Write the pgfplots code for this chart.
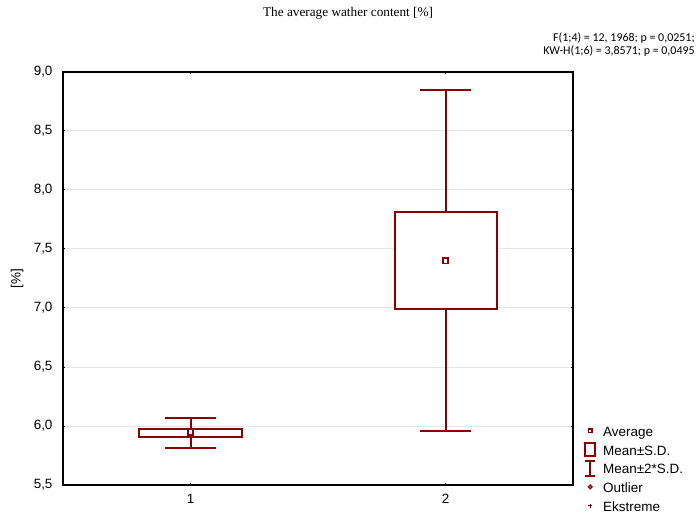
\documentclass[border=0pt]{standalone}
\usepackage{fontspec}
\setmainfont{Liberation Sans}
\newfontfamily\titlefont{Liberation Serif}
\newfontfamily\calib{Carlito}
\usepackage{pgfplots}
\pgfplotsset{compat=1.18}
\definecolor{darkred}{RGB}{139,0,0}
\definecolor{gridgray}{RGB}{230,230,230}
\newcommand{\lstrut}{\rule[-5.5bp]{0pt}{18.8bp}}
\begin{document}
\begin{tikzpicture}
\path[use as bounding box] (-63bp,-32bp) rectangle (634bp,485bp);
\begin{axis}[
  at={(0,0)}, anchor=south west,
  scale only axis, width=510bp, height=413bp,
  xmin=0.5, xmax=2.5, ymin=5.5, ymax=9.0,
  xtick={1,2}, xticklabels={1,2},
  ytick={5.5,6.0,6.5,7.0,7.5,8.0,8.5,9.0},
  ymajorgrids, grid style={gridgray, line width=1bp},
  axis line style={black, line width=1.3bp},
  tick align=inside, major tick length=2.5bp,
  tick style={black, line width=1bp},
  /pgf/number format/assume math mode=true,
  /pgf/number format/use comma, /pgf/number format/fixed,
  /pgf/number format/fixed zerofill, /pgf/number format/precision=1,
  ticklabel style={font=\fontsize{13.5}{15}\selectfont},
  yticklabel style={xshift=-7bp},
  xticklabel style={yshift=-6bp},
  ylabel={[\%]},
  ylabel style={at={(rel axis cs:-0.09,0.5)}, anchor=center, font=\fontsize{13.5}{15}\selectfont},
  legend style={at={(rel axis cs:1,0.16)}, anchor=north west, xshift=8bp, draw=none, fill=none,
    font=\fontsize{13.5}{15}\selectfont, row sep=0bp,
    cells={anchor=west, inner ysep=1bp, inner xsep=1.5bp},
    /tikz/every odd column/.append style={column sep=5bp}},
  legend cell align=left,
  unbounded coords=jump,
  clip=false,
]
% whiskers (mean +/- 2*S.D. as drawn)
\addplot[forget plot, darkred, line width=2bp] coordinates {
  (0.9,6.07) (1.1,6.07) (nan,nan) (1,6.07) (1,5.975) (nan,nan)
  (1,5.91) (1,5.81) (nan,nan) (0.9,5.81) (1.1,5.81) (nan,nan)
  (1.9,8.85) (2.1,8.85) (nan,nan) (2,8.85) (2,7.81) (nan,nan)
  (2,6.99) (2,5.96) (nan,nan) (1.9,5.96) (2.1,5.96)};
% boxes (mean +/- S.D.)
\addplot[forget plot, darkred, line width=2bp, fill=white] coordinates {
  (0.8,5.91) (1.2,5.91) (1.2,5.975) (0.8,5.975)} -- cycle;
\addplot[forget plot, darkred, line width=2bp, fill=white] coordinates {
  (1.8,6.99) (2.2,6.99) (2.2,7.81) (1.8,7.81)} -- cycle;
% averages
\addplot[forget plot, only marks, mark=square*, mark size=2.6bp, darkred, line width=1.5bp,
  mark options={fill=white}] coordinates {(1,5.947) (2,7.40)};
\addlegendimage{legend image code/.code={
  \path[draw=none,fill=none] (0,-6bp) rectangle (12bp,6bp);
  \draw[darkred,line width=1.4bp,fill=white] (4.3bp,-1.7bp) rectangle (7.7bp,1.7bp);}}
\addlegendentry{\lstrut Average}
\addlegendimage{legend image code/.code={
  \path[draw=none,fill=none] (0,-6bp) rectangle (12bp,6bp);
  \draw[darkred,line width=2bp,fill=none] (1bp,-6.5bp) rectangle (11bp,6.5bp);}}
\addlegendentry{\lstrut Mean±S.D.}
\addlegendimage{legend image code/.code={
  \path[draw=none,fill=none] (0,-6bp) rectangle (12bp,6bp);
  \draw[darkred,line width=1.5bp] (1bp,-8bp) -- (11bp,-8bp) (6bp,-8bp) -- (6bp,7bp) (1bp,7bp) -- (11bp,7bp);}}
\addlegendentry{\lstrut Mean±2*S.D.}
\addlegendimage{legend image code/.code={
  \path[draw=none,fill=none] (0,-6bp) rectangle (12bp,6bp);
  \draw[darkred,line width=1.3bp,fill=white] (6bp,0) circle (1.8bp);}}
\addlegendentry{\lstrut Outlier}
\addlegendimage{legend image code/.code={
  \path[draw=none,fill=none] (0,-6bp) rectangle (12bp,6bp);
  \draw[darkred,line width=1bp] (4bp,0) -- (8bp,0) (6bp,-2bp) -- (6bp,2bp);}}
\addlegendentry{\lstrut Ekstreme}
\node[font=\titlefont\fontsize{13.3}{15}\selectfont, anchor=center] at (rel axis cs:0.559,1.143) {The average wather content [\%]};
\node[font=\calib\fontsize{12}{13}\selectfont, anchor=north east, align=right, inner sep=0pt] at (rel axis cs:1.239,1.095)
  {F(1;4) = 12, 1968; p = 0,0251;\\KW-H(1;6) = 3,8571; p = 0,0495};
\end{axis}
\end{tikzpicture}
\end{document}
